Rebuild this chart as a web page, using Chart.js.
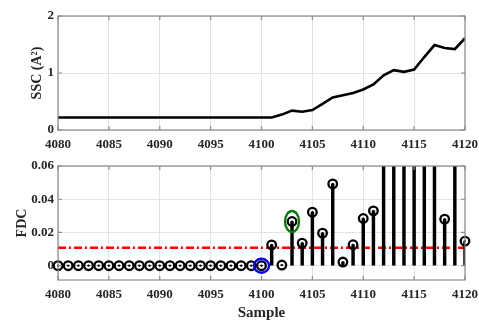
<!DOCTYPE html>
<html>
<head>
<meta charset="utf-8">
<script src="https://cdn.jsdelivr.net/npm/chart.js@4.4.0/dist/chart.umd.min.js"></script>
<style>
  html, body { margin: 0; padding: 0; background: #fff; overflow: hidden; }
  .box { position: absolute; left: 0; width: 479px; }
</style>
</head>
<body>
<div class="box" style="top:0;height:150px"><canvas id="sscChart" width="479" height="150"></canvas></div>
<div class="box" style="top:150px;height:175px"><canvas id="fdcChart" width="479" height="175"></canvas></div>
<script>
// Sample index shared by both panels
const samples = [4080, 4081, 4082, 4083, 4084, 4085, 4086, 4087, 4088, 4089, 4090,
                 4091, 4092, 4093, 4094, 4095, 4096, 4097, 4098, 4099, 4100,
                 4101, 4102, 4103, 4104, 4105, 4106, 4107, 4108, 4109, 4110,
                 4111, 4112, 4113, 4114, 4115, 4116, 4117, 4118, 4119, 4120];

// SSC (A^2), top panel
const sscValues = [0.22, 0.22, 0.22, 0.22, 0.22, 0.22, 0.22, 0.22, 0.22, 0.22, 0.22,
                   0.22, 0.22, 0.22, 0.22, 0.22, 0.22, 0.22, 0.22, 0.22, 0.22,
                   0.22, 0.27, 0.34, 0.32, 0.35, 0.46, 0.57, 0.61, 0.65, 0.71,
                   0.80, 0.96, 1.05, 1.02, 1.06, 1.28, 1.49, 1.44, 1.42, 1.61];

// FDC, bottom panel (values above 0.06 run off the top of the axes)
const fdcValues = [0, 0, 0, 0, 0, 0, 0, 0, 0, 0, 0,
                   0, 0, 0, 0, 0, 0, 0, 0, 0, 0,
                   0.0125, 0.0004, 0.0266, 0.0136, 0.0322, 0.0196, 0.0492, 0.0022, 0.0126, 0.0284,
                   0.0330, 0.085, 0.110, 0.095, 0.120, 0.140, 0.130, 0.0280, 0.090, 0.0148];

const threshold = 0.0108;

// highlighted samples (circled in the figure)
const markX = [4100, 4103];
const markY = [0, 0.0266];

const xTicks = [4080, 4085, 4090, 4095, 4100, 4105, 4110, 4115, 4120];
const sscTicks = [0, 1, 2];
const fdcTicks = [0, 0.02, 0.04, 0.06];

const FONT = 'Liberation Serif, Times New Roman, serif';
const tickFont = { family: FONT, size: 13, weight: 'bold' };
const gridColor = '#e3e3e3';
const textColor = '#262626';

// gray box round the plot area with inward tick marks, like MATLAB's axes
const boxPlugin = {
    id: 'axesBox',
    afterDatasetsDraw(chart) {
        const a = chart.chartArea;
        const ctx = chart.ctx;
        const xs = chart.scales.x, ys = chart.scales.y;
        ctx.save();
        ctx.strokeStyle = '#8a8a8a';
        ctx.lineWidth = 1.2;
        ctx.strokeRect(a.left, a.top, a.right - a.left, a.bottom - a.top);
        ctx.beginPath();
        xs.ticks.forEach(t => {
            const px = xs.getPixelForValue(t.value);
            ctx.moveTo(px, a.bottom); ctx.lineTo(px, a.bottom - 4);
            ctx.moveTo(px, a.top); ctx.lineTo(px, a.top + 4);
        });
        ys.ticks.forEach(t => {
            const py = ys.getPixelForValue(t.value);
            ctx.moveTo(a.left, py); ctx.lineTo(a.left + 4, py);
            ctx.moveTo(a.right, py); ctx.lineTo(a.right - 4, py);
        });
        ctx.stroke();
        ctx.restore();
    }
};

// ellipses round the highlighted samples
const ringPlugin = {
    id: 'rings',
    afterDatasetsDraw(chart, args, opts) {
        const ctx = chart.ctx;
        const xs = chart.scales.x, ys = chart.scales.y;
        ctx.save();
        markX.forEach((mx, i) => {
            const r = opts.rings[i];
            ctx.beginPath();
            ctx.ellipse(xs.getPixelForValue(mx), ys.getPixelForValue(markY[i]), r.rx, r.ry, 0, 0, Math.PI * 2);
            ctx.strokeStyle = r.color;
            ctx.lineWidth = 2.4;
            ctx.stroke();
        });
        ctx.restore();
    }
};

function xScale(height, showTitle) {
    return {
        type: 'linear',
        min: 4080,
        max: 4120,
        offset: false,
        afterFit: s => {
            s.height = height;
            s.paddingLeft = 0;
            s.paddingRight = 0;
        },
        afterBuildTicks: s => { s.ticks = xTicks.map(v => ({ value: v })); },
        grid: { color: gridColor, drawTicks: false, offset: false },
        border: { display: false },
        ticks: {
            padding: 7,
            font: tickFont,
            color: textColor,
            maxRotation: 0,
            autoSkip: false,
            callback: v => String(v)
        },
        title: {
            display: showTitle,
            text: 'Sample',
            color: textColor,
            font: { family: FONT, size: 15, weight: 'bold' },
            padding: { top: 0, bottom: 3 }
        }
    };
}

function yScale(min, max, ticks, label, titlePad, fmt) {
    return {
        min: min,
        max: max,
        afterFit: s => { s.width = 58; },
        afterBuildTicks: s => { s.ticks = ticks.map(v => ({ value: v })); },
        grid: { color: gridColor, drawTicks: false },
        border: { display: false },
        ticks: { padding: 4, font: tickFont, color: textColor, callback: fmt },
        title: {
            display: true,
            text: label,
            color: textColor,
            font: { family: FONT, size: 14, weight: 'bold' },
            padding: { top: titlePad, bottom: 0 }
        }
    };
}

new Chart(document.getElementById('sscChart').getContext('2d'), {
    type: 'line',
    data: {
        datasets: [{
            data: samples.map((s, i) => ({ x: s, y: sscValues[i] })),
            borderColor: '#000',
            borderWidth: 2.6,
            pointRadius: 0,
            tension: 0
        }]
    },
    options: {
        responsive: false,
        animation: false,
        devicePixelRatio: 1,
        layout: { padding: { top: 16, right: 14, left: 0, bottom: 0 } },
        plugins: { legend: { display: false }, tooltip: { enabled: false } },
        scales: {
            x: xScale(20, false),
            y: yScale(0, 2, sscTicks, 'SSC (A\u00B2)', 28.5, v => String(v))
        }
    },
    plugins: [boxPlugin]
});

const markerClip = { left: 6, right: 6, top: 0, bottom: 6 };

new Chart(document.getElementById('fdcChart').getContext('2d'), {
    type: 'bar',
    data: {
        datasets: [
            {
                // threshold
                type: 'line',
                data: [{ x: 4080, y: threshold }, { x: 4120, y: threshold }],
                borderColor: '#ff0000',
                borderWidth: 2.4,
                borderDash: [8, 3, 2, 3],
                pointRadius: 0,
                order: 3
            },
            {
                // stems
                type: 'bar',
                data: samples.map((s, i) => ({ x: s, y: fdcValues[i] })),
                backgroundColor: '#000',
                barThickness: 2.8,
                borderWidth: 0,
                order: 2
            },
            {
                // circle markers
                type: 'line',
                data: samples.map((s, i) => ({ x: s, y: fdcValues[i] })),
                showLine: false,
                clip: markerClip,
                pointStyle: 'circle',
                pointRadius: 4.3,
                pointBorderWidth: 2.3,
                pointBorderColor: '#000',
                pointBackgroundColor: 'rgba(255,255,255,0)',
                order: 1
            },
            {
                // marker centre dots
                type: 'line',
                data: samples.map((s, i) => ({ x: s, y: fdcValues[i] })),
                showLine: false,
                clip: markerClip,
                pointRadius: 1.1,
                pointBorderWidth: 0,
                pointBackgroundColor: '#000',
                order: 0
            }
        ]
    },
    options: {
        responsive: false,
        animation: false,
        devicePixelRatio: 1,
        layout: { padding: { top: 16, right: 14, left: 0, bottom: 0 } },
        plugins: {
            legend: { display: false },
            tooltip: { enabled: false },
            rings: {
                rings: [
                    { rx: 7.5, ry: 7, color: '#0000ff' },
                    { rx: 7, ry: 10.5, color: '#0a7a0a' }
                ]
            }
        },
        scales: {
            x: xScale(45, true),
            y: yScale(-0.0086, 0.06, fdcTicks, 'FDC', 13.5, v => (v === 0 ? '0' : v.toFixed(2)))
        }
    },
    plugins: [boxPlugin, ringPlugin]
});
</script>
</body>
</html>
